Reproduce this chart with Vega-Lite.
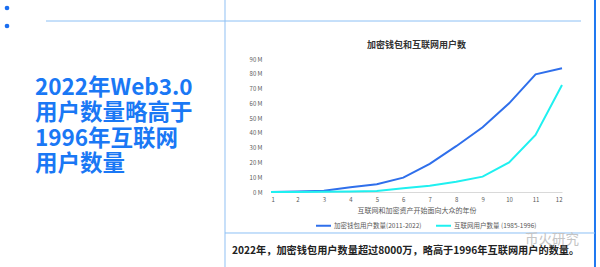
{
  "$schema": "https://vega.github.io/schema/vega-lite/v6.json",
  "width": 291,
  "height": 133,
  "autosize": {"type": "none"},
  "padding": {"left": 271, "top": 59, "right": 38, "bottom": 75},
  "background": "#ffffff",
  "config": {
    "view": {"stroke": null},
    "font": "Noto Sans CJK SC",
    "axis": {"labelColor": "#595959", "labelFont": "Noto Sans CJK SC"},
    "legend": {"labelFont": "Noto Sans CJK SC"}
  },
  "datasets": {
    "users": [
      {"idx": 1, "series": "加密钱包用户数量(2011-2022)", "value": 0},
      {"idx": 2, "series": "加密钱包用户数量(2011-2022)", "value": 0.3},
      {"idx": 3, "series": "加密钱包用户数量(2011-2022)", "value": 0.9},
      {"idx": 4, "series": "加密钱包用户数量(2011-2022)", "value": 3.2},
      {"idx": 5, "series": "加密钱包用户数量(2011-2022)", "value": 5.2},
      {"idx": 6, "series": "加密钱包用户数量(2011-2022)", "value": 9.7},
      {"idx": 7, "series": "加密钱包用户数量(2011-2022)", "value": 19},
      {"idx": 8, "series": "加密钱包用户数量(2011-2022)", "value": 31},
      {"idx": 9, "series": "加密钱包用户数量(2011-2022)", "value": 43.8},
      {"idx": 10, "series": "加密钱包用户数量(2011-2022)", "value": 60},
      {"idx": 11, "series": "加密钱包用户数量(2011-2022)", "value": 79.6},
      {"idx": 12, "series": "加密钱包用户数量(2011-2022)", "value": 83.7},
      {"idx": 1, "series": "互联网用户数量 (1985-1996)", "value": 0},
      {"idx": 2, "series": "互联网用户数量 (1985-1996)", "value": 0.05},
      {"idx": 3, "series": "互联网用户数量 (1985-1996)", "value": 0.1},
      {"idx": 4, "series": "互联网用户数量 (1985-1996)", "value": 0.3},
      {"idx": 5, "series": "互联网用户数量 (1985-1996)", "value": 0.7},
      {"idx": 6, "series": "互联网用户数量 (1985-1996)", "value": 2.5},
      {"idx": 7, "series": "互联网用户数量 (1985-1996)", "value": 4.3},
      {"idx": 8, "series": "互联网用户数量 (1985-1996)", "value": 7},
      {"idx": 9, "series": "互联网用户数量 (1985-1996)", "value": 10.4},
      {"idx": 10, "series": "互联网用户数量 (1985-1996)", "value": 20},
      {"idx": 11, "series": "互联网用户数量 (1985-1996)", "value": 38.6},
      {"idx": 12, "series": "互联网用户数量 (1985-1996)", "value": 72.4}
    ],
    "one": [{}]
  },
  "layer": [
    {
      "data": {"name": "users"},
      "mark": {"type": "line", "strokeWidth": 2},
      "encoding": {
        "x": {
          "field": "idx",
          "type": "quantitative",
          "scale": {"domain": [1, 12], "nice": false, "zero": false},
          "axis": {
            "tickCount": 12,
            "format": "d",
            "labelFontSize": 6,
            "labelPadding": 4,
            "labelOverlap": false,
            "ticks": false,
            "grid": false,
            "domainColor": "#d9d9d9",
            "title": "互联网和加密资产开始面向大众的年份",
            "titleFontSize": 7,
            "titleFontWeight": "normal",
            "titleColor": "#595959",
            "titlePadding": 4
          }
        },
        "y": {
          "field": "value",
          "type": "quantitative",
          "scale": {"domain": [0, 90], "nice": false},
          "axis": {
            "tickCount": 10,
            "labelExpr": "datum.value + ' M'",
            "labelFontSize": 6,
            "labelPadding": 9,
            "labelOverlap": false,
            "ticks": false,
            "domain": false,
            "grid": false,
            "title": null
          }
        },
        "color": {
          "field": "series",
          "type": "nominal",
          "scale": {
            "domain": ["加密钱包用户数量(2011-2022)", "互联网用户数量 (1985-1996)"],
            "range": ["#2f6feb", "#1ff0f0"]
          },
          "legend": {
            "title": null,
            "orient": "none",
            "direction": "horizontal",
            "legendX": 44,
            "legendY": 158,
            "symbolType": "stroke",
            "symbolSize": 225,
            "symbolStrokeWidth": 2,
            "labelFontSize": 6.5,
            "labelColor": "#595959",
            "labelOffset": 2,
            "columnPadding": 10
          }
        }
      }
    },
    {
      "data": {"name": "one"},
      "mark": {"type": "rule", "color": "#b5d5f7", "strokeWidth": 1.5},
      "encoding": {
        "x": {"datum": -0.739, "type": "quantitative"},
        "y": {"datum": 129.92, "type": "quantitative"},
        "y2": {"datum": -50.75}
      }
    },
    {
      "data": {"name": "one"},
      "mark": {"type": "rule", "color": "#1f78f0", "strokeWidth": 2},
      "encoding": {
        "x": {"datum": 13.247, "type": "quantitative"},
        "y": {"datum": 129.92, "type": "quantitative"},
        "y2": {"datum": -50.75}
      }
    },
    {
      "data": {"name": "one"},
      "mark": {"type": "rule", "color": "#8cc0f5", "strokeWidth": 1},
      "encoding": {
        "y": {"datum": 115.71, "type": "quantitative"},
        "x": {"datum": -7.505, "type": "quantitative"},
        "x2": {"datum": 12.718}
      }
    },
    {
      "data": {"name": "one"},
      "mark": {"type": "rule", "color": "#8cc0f5", "strokeWidth": 1},
      "encoding": {
        "y": {"datum": -27.74, "type": "quantitative"},
        "x": {"datum": -0.739, "type": "quantitative"},
        "x2": {"datum": 13.247}
      }
    },
    {
      "data": {"name": "one"},
      "mark": {"type": "point", "filled": true, "size": 22, "color": "#1a6ef0", "opacity": 1},
      "encoding": {
        "x": {"datum": -8.979, "type": "quantitative"},
        "y": {"datum": 124.51, "type": "quantitative"}
      }
    },
    {
      "data": {"name": "one"},
      "mark": {"type": "point", "filled": true, "size": 22, "color": "#1a6ef0", "opacity": 1},
      "encoding": {
        "x": {"datum": -8.979, "type": "quantitative"},
        "y": {"datum": 112.33, "type": "quantitative"}
      }
    },
    {
      "data": {"name": "one"},
      "mark": {
        "type": "text",
        "text": "加密钱包和互联网用户数",
        "align": "center",
        "baseline": "middle",
        "fontSize": 9,
        "fontWeight": "bold",
        "font": "Noto Sans CJK SC",
        "color": "#333333"
      },
      "encoding": {
        "x": {"datum": 6.5, "type": "quantitative"},
        "y": {"datum": 99.47, "type": "quantitative"}
      }
    },
    {
      "data": {"name": "one"},
      "mark": {
        "type": "text",
        "text": ["2022年Web3.0", "用户数量略高于", "1996年互联网", "用户数量"],
        "align": "left",
        "baseline": "middle",
        "fontSize": 22.5,
        "lineHeight": 25.3,
        "fontWeight": "bold",
        "font": "Noto Sans CJK SC",
        "color": "#1a78f5"
      },
      "encoding": {
        "x": {"datum": -7.921, "type": "quantitative"},
        "y": {"datum": 70.38, "type": "quantitative"}
      }
    },
    {
      "data": {"name": "one"},
      "mark": {
        "type": "text",
        "text": "币火研究",
        "align": "center",
        "baseline": "middle",
        "fontSize": 13.5,
        "font": "Noto Sans CJK SC",
        "color": "#c4c4c4"
      },
      "encoding": {
        "x": {"datum": 11.62, "type": "quantitative"},
        "y": {"datum": -32.4, "type": "quantitative"}
      }
    },
    {
      "data": {"name": "one"},
      "mark": {
        "type": "text",
        "text": "2022年，加密钱包用户数量超过8000万，略高于1996年互联网用户的数量。",
        "align": "left",
        "baseline": "middle",
        "fontSize": 10.2,
        "fontWeight": "bold",
        "font": "Noto Sans CJK SC",
        "color": "#222222"
      },
      "encoding": {
        "x": {"datum": -0.474, "type": "quantitative"},
        "y": {"datum": -39.6, "type": "quantitative"}
      }
    }
  ]
}
